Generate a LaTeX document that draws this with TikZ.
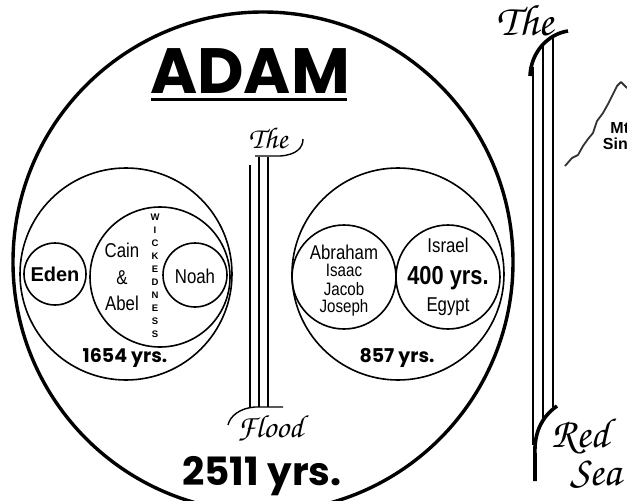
\documentclass[tikz,border=0pt]{standalone}
\usepackage[T1]{fontenc}
\usepackage{fontspec}
\setmainfont{Liberation Sans}
\newfontfamily\narrowfont{Liberation Sans}[FakeStretch=0.84]
\newfontfamily\comicfont{Poppins}
\newcommand{\chancery}{\fontencoding{T1}\fontfamily{pzc}\fontseries{m}\fontshape{it}\selectfont}
\newcommand{\fsz}[1]{\fontsize{#1}{#1}\selectfont}
\usetikzlibrary{positioning}

\begin{document}
\begin{tikzpicture}[x=1pt,y=-1pt,
  ring/.style={draw,circle,inner sep=0pt,line width=1.6pt},
  person/.style={font=\narrowfont\fsz{20},inner sep=0pt},
  minor/.style={font=\narrowfont\fsz{18},inner sep=0pt},
  yrs/.style={font=\comicfont\bfseries\fsz{19},inner sep=0pt},
  wick/.style={font=\bfseries\fsz{9.5},inner sep=0pt},
  swash/.style={font=\chancery,inner sep=0pt},
  rail/.style={line width=1.3pt},
  bank/.style={line width=3.6pt}]

  \useasboundingbox (0,0) rectangle (627,501);
  \clip (0,0) rectangle (627,501);

  % ---------- Adam ----------
  \node[ring,line width=3.4pt,minimum size=500pt] (adam) at (263,262) {};
  \node[font=\comicfont\bfseries\fsz{64},inner sep=0pt] (adamlab) at (250,71) {ADAM};
  \draw[line width=3pt] (151,99) -- (347,99);
  \node[font=\comicfont\bfseries\fsz{39},inner sep=0pt] (total) at (262,476) {2511 yrs.};

  % ---------- before the flood ----------
  \node[ring,minimum size=212pt] (before) at (126,274) {};
  \node[ring,minimum size=140pt] (cain) at (160,277) {};
  \node[ring,minimum size=62pt] (eden) at (55,274) {};
  \node[ring,minimum size=64pt] (noah) at (195,275) {};
  \node[font=\bfseries\fsz{20},inner sep=0pt] (edenlab) at (55,274) {Eden};
  \node[person,align=center,font=\narrowfont\fontsize{20}{26.5}\selectfont] (cainlab) at (122,277) {Cain\\\&\\Abel};
  \node[person] (noahlab) at (195,276) {Noah};
  \foreach \l [count=\i from 0] in {W,I,C,K,E,D,N,E,S,S}
    \node[wick] (w\i) at (155,217+13*\i) {\l};
  \node[yrs] (yrsa) at (125,358) {1654 yrs.};

  % ---------- after the flood ----------
  \node[ring,minimum size=212pt] (after) at (398,274) {};
  \node[ring,minimum size=104pt] (abraham) at (344,277) {};
  \node[ring,minimum size=104pt] (israel) at (448,277) {};
  \node[person] (ablab) at (344,252) {Abraham};
  \node[minor] (isaac) at (344,270) {Isaac};
  \node[minor] (jacob) at (344,289) {Jacob};
  \node[minor] (joseph) at (344,308) {Joseph};
  \node[person] (israellab) at (448,245) {Israel};
  \node[font=\narrowfont\bfseries\fsz{26},inner sep=0pt] (egyptyrs) at (448,278) {400 yrs.};
  \node[person] (egypt) at (448,307) {Egypt};
  \node[yrs] (yrsb) at (397,358) {857 yrs.};

  % ---------- the flood ----------
  \draw[rail] (250,165) -- (250,407);
  \draw[rail] (259,157) -- (259,407);
  \draw[rail] (268,157) -- (268,407);
  \draw[line width=1.4pt] (255,156) -- (280,156) .. controls (296,155) and (303,148) .. (303,139);
  \draw[line width=1.4pt] (283,407) -- (255,407) .. controls (240,408) and (230,416) .. (228,425);
  \node[swash,font=\chancery\bfseries\fsz{30}] (floodthe) at (268,138) {The};
  \node[swash,font=\chancery\bfseries\fsz{32}] (flood) at (270,428) {Flood};

  % ---------- red sea ----------
  \draw[rail] (533,67) -- (533,445);
  \draw[rail] (543,45) -- (543,423);
  \draw[rail] (553,38) -- (553,407);
  \draw[bank] (530,76) .. controls (531,52) and (548,34) .. (568,31);
  \draw[bank] (557,406) .. controls (540,418) and (534,435) .. (535,455) -- (535,481);
  \node[swash,font=\chancery\fsz{44}] (seathe) at (525,20) {The};
  \node[swash,font=\chancery\fsz{42},anchor=west] (red) at (551,436) {Red};
  \node[swash,font=\chancery\fsz{42},anchor=west] (sea) at (570,474) {Sea};

  % ---------- sinai ----------
  \draw[line width=1.8pt,black!80,line join=round]
    (565,166) -- (572,158) -- (578,155) -- (583,146) -- (588,139) -- (593,133)
    -- (597,121) -- (603,113) -- (608,104) -- (612,96) -- (617,86) -- (621,82) -- (627,88);
  \node[font=\bfseries\fsz{16},align=center,inner sep=0pt] (sinai) at (622,136) {Mt.\\Sinai};
\end{tikzpicture}
\end{document}
